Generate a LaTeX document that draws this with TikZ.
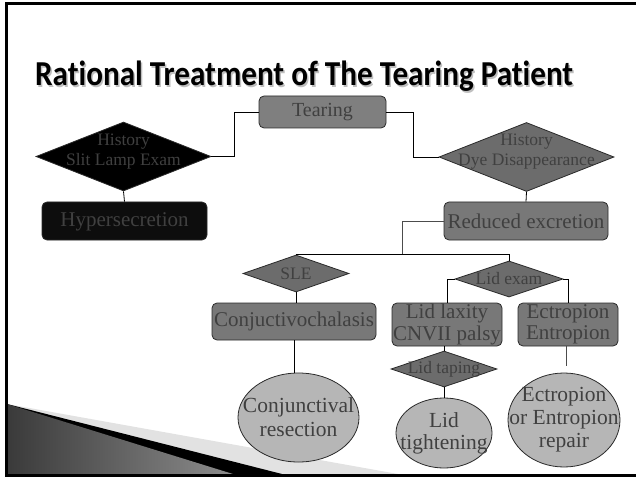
\documentclass[tikz,border=0pt]{standalone}
\usepackage{fontspec}
\setmainfont{Liberation Serif}
\newfontfamily\titlefont[Ligatures={NoCommon,NoContextual}]{Carlito}
\usetikzlibrary{shapes.geometric}

\definecolor{ink}{HTML}{404040}
\definecolor{edge}{HTML}{2A2A2A}
\definecolor{boxfill}{HTML}{787878}
\definecolor{tearfill}{HTML}{7F7F7F}
\definecolor{diafill}{HTML}{6C6C6C}
\definecolor{ovalfill}{HTML}{B6B6B6}
\definecolor{bandlight}{HTML}{E2E2E2}
\definecolor{wedgedark}{HTML}{3A3A3A}
\definecolor{wedgelight}{HTML}{8C8C8C}

\newcommand\titletext{\scalebox{0.89}[1]{Rational Treatment of The Tearing Patient}}

\begin{document}
\begin{tikzpicture}[x=1pt, y=-1pt,
  box/.style={rectangle, rounded corners=5pt, draw=edge, fill=boxfill, line width=0.8pt, inner sep=0pt},
  dia/.style={diamond, draw=edge, fill=diafill, line width=0.8pt, inner sep=0pt},
  oval/.style={ellipse, draw=edge, fill=ovalfill, line width=0.8pt, inner sep=0pt},
  txt/.style={align=center, text=ink, inner sep=0pt, font=\fontsize{21}{21.5}\selectfont},
  small/.style={txt, font=\fontsize{17.5}{20}\selectfont},
  big/.style={txt, font=\fontsize{21.5}{23}\selectfont},
  heading/.style={anchor=base west, inner sep=0pt, font=\titlefont\bfseries\fontsize{35}{38}\selectfont},
  link/.style={draw=black, line width=0.8pt}
]
\useasboundingbox (0,0) rectangle (636,478);

% corner decoration, bottom left
\fill[bandlight] (7,404) -- (398,474) -- (7,474) -- cycle;
\fill[black] (7,404) -- (282,474) -- (7,474) -- cycle;
\shade[left color=wedgedark, right color=wedgelight] (7,404) -- (233,474) -- (7,474) -- cycle;

% slide frame
\draw[line width=3pt] (636,3.5) -- (6.5,3.5) -- (6.5,475) -- (636,475);

% title with a soft shadow
\node[heading, text=black!25] (titleshadow) at (36.5,87.5) {\titletext};
\node[heading, text=black] (title) at (35,86) {\titletext};

% top level
\node[box, fill=tearfill, minimum width=127pt, minimum height=32pt,
  label={[txt, font=\fontsize{20}{22}\selectfont]center:Tearing}] (tear) at (322.5,112) {};

\node[dia, fill=black, minimum width=175pt, minimum height=69pt,
  label={[small, yshift=5pt]center:History\\Slit Lamp Exam}] (hist1) at (123.5,156.5) {};
\node[dia, minimum width=175pt, minimum height=69pt,
  label={[small, yshift=5pt]center:History\\Dye Disappearance}] (hist2) at (526.5,157) {};

\node[box, fill=black!95, minimum width=165pt, minimum height=38pt,
  label={[txt, yshift=-1pt]center:Hypersecretion}] (hyper) at (124.5,221) {};
\node[box, minimum width=164pt, minimum height=38pt,
  label={[txt]center:Reduced excretion}] (reduced) at (526,221) {};

% second level
\node[dia, minimum width=106pt, minimum height=37pt,
  label={[small]center:SLE}] (sle) at (296,273.5) {};
\node[dia, minimum width=108pt, minimum height=36pt,
  label={[small]center:Lid exam}] (lidexam) at (509,279) {};

\node[box, minimum width=164pt, minimum height=37pt,
  label={[txt]center:Conjuctivochalasis}] (conj) at (294,321.5) {};
\node[box, minimum width=110pt, minimum height=43pt,
  label={[txt]center:Lid laxity\\CNVII palsy}] (laxity) at (447,324.5) {};
\node[box, minimum width=100pt, minimum height=43pt,
  label={[txt]center:Ectropion\\Entropion}] (ectro) at (568,324.5) {};

\node[dia, minimum width=106pt, minimum height=36pt,
  label={[small]center:Lid taping}] (taping) at (444,369) {};

% treatments
\node[oval, minimum width=121pt, minimum height=89pt,
  label={[big, font=\fontsize{21.5}{24}\selectfont]center:Conjunctival\\resection}] (resect) at (298.5,417.5) {};
\node[oval, minimum width=96pt, minimum height=70pt,
  label={[big, font=\fontsize{21.5}{22}\selectfont]center:Lid\\tightening}] (tighten) at (444,433) {};
\node[oval, minimum width=112pt, minimum height=94pt,
  label={[big]center:Ectropion\\or Entropion\\repair}] (repair) at (564,420) {};

% connectors
\draw[link] (tear.west) -- ++(-24,0) |- (hist1.east);
\draw[link] (tear.east) -- ++(27,0) |- (hist2.west);
\draw[link] (hist1.south) -- (hyper.north);
\draw[link] (hist2.south) -- (reduced.north);
\coordinate (split) at (402,255);
\draw[link, draw=black!70] (reduced.west) -| (split);
\draw[link] (sle.north) -| (lidexam.north);
\draw[link] (sle.south) -- (sle.south |- conj.north);
\draw[link] (conj.south) -- (conj.south |- resect.north);
\draw[link] (lidexam.west) -| (laxity.north);
\draw[link] (lidexam.east) -| (ectro.north);
\draw[link] (taping.north |- laxity.south) -- (taping.north);
\draw[link] (taping.south) -- (tighten.north);
\coordinate (ectroend) at (566,366);
\draw[link, draw=black!70] (ectroend |- ectro.south) -- (ectroend);
\end{tikzpicture}
\end{document}
